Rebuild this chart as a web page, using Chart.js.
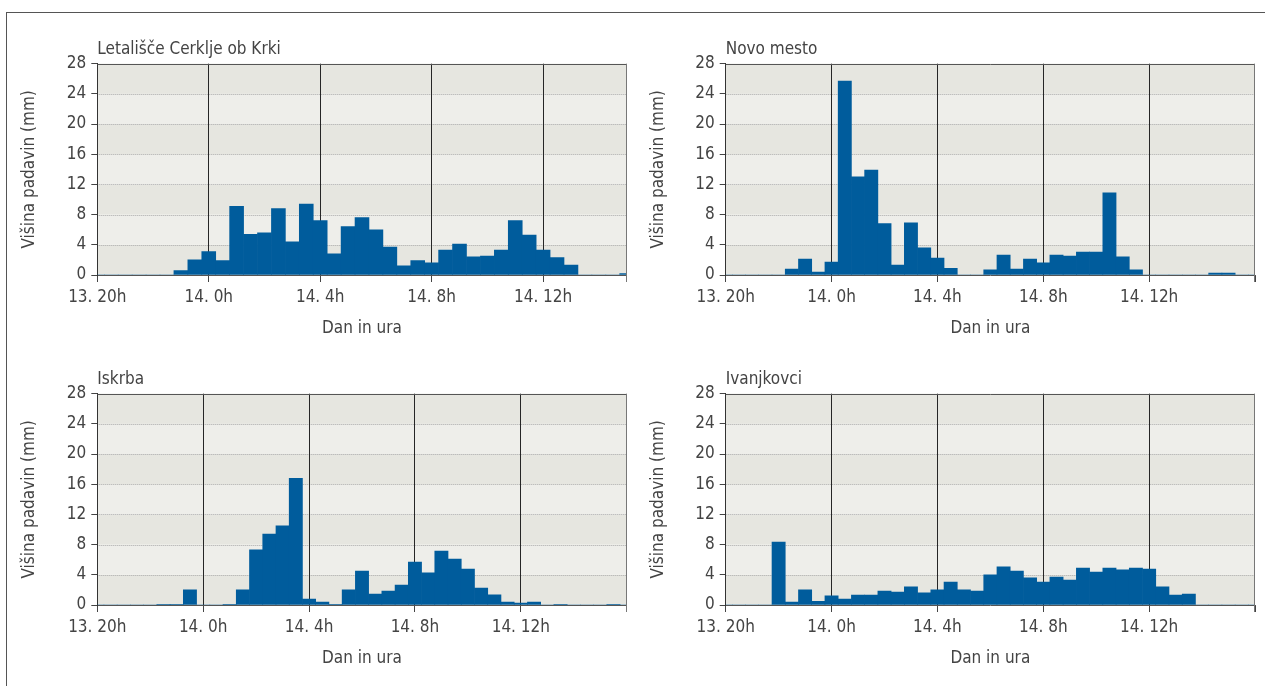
<!DOCTYPE html>
<html>
<head>
<meta charset="utf-8">
<title>Višina padavin</title>
<script src="https://cdn.jsdelivr.net/npm/chart.js@4.4.1/dist/chart.umd.min.js"></script>
<style>
  html, body { margin: 0; padding: 0; background: #fff; }
  body { width: 1265px; height: 686px; position: relative; overflow: hidden; }
  .frame { position: absolute; left: 6px; top: 12px; width: 1270px; height: 690px;
           border-top: 1px solid #555; border-left: 1px solid #555; }
  canvas { position: absolute; }
</style>
</head>
<body>
<div class="frame"></div>
<canvas id="c1" width="640" height="320" style="left:0;top:30px"></canvas>
<canvas id="c2" width="625" height="320" style="left:640px;top:30px"></canvas>
<canvas id="c3" width="640" height="320" style="left:0;top:360px"></canvas>
<canvas id="c4" width="625" height="320" style="left:640px;top:360px"></canvas>
<script>
// Station names (panel titles)
const stations = ['Letališče Cerklje ob Krki', 'Novo mesto', 'Iskrba', 'Ivanjkovci'];

// Half-hourly precipitation (mm), starting on the 13th at 20h
const cerkljeRain = [0, 0, 0, 0, 0, 0, 0.6, 2.0, 3.1, 1.9, 9.1, 5.4, 5.6, 8.8, 4.4, 9.4,
  7.2, 2.8, 6.4, 7.6, 6.0, 3.7, 1.2, 1.9, 1.6, 3.3, 4.1, 2.4, 2.5, 3.3, 7.2, 5.3,
  3.3, 2.3, 1.3, 0, 0, 0, 0.2];
const novoMestoRain = [0, 0, 0, 0, 0, 0.8, 2.1, 0.4, 1.7, 25.7, 13.0, 13.9, 6.8, 1.3, 6.9, 3.6,
  2.25, 0.9, 0, 0, 0.7, 2.65, 0.8, 2.1, 1.6, 2.65, 2.5, 3.05, 3.05, 10.9, 2.4, 0.7,
  0, 0, 0, 0, 0, 0.25, 0.25, 0, 0];
const iskrbaRain = [0, 0, 0, 0, 0, 0.1, 0.1, 2.0, 0, 0, 0.1, 2.0, 7.3, 9.4, 10.5, 16.8,
  0.8, 0.4, 0.05, 2.0, 4.5, 1.45, 1.85, 2.65, 5.7, 4.25, 7.15, 6.1, 4.75, 2.25, 1.35, 0.4,
  0.25, 0.4, 0, 0.1, 0, 0, 0, 0.1, 0];
const ivanjkovciRain = [0, 0, 0, 0, 8.35, 0.4, 2.0, 0.5, 1.2, 0.8, 1.3, 1.3, 1.85, 1.7, 2.4, 1.6,
  2.0, 3.05, 2.0, 1.85, 4.0, 5.05, 4.5, 3.6, 3.05, 3.7, 3.3, 4.9, 4.35, 4.9, 4.65, 4.9,
  4.75, 2.4, 1.3, 1.45, 0, 0, 0, 0, 0];

// Labelled x ticks, one every 8 half hours (4 h)
const tickLabels = ['13. 20h', '14. 0h', '14. 4h', '14. 8h', '14. 12h'];
const tickStep = 8;

// Value axis
const yMin = 0, yMax = 28, yStep = 4;

const FONT = '"Liberation Sans Narrow", "DejaVu Sans Condensed", "Roboto", sans-serif';
const FONT_SIZE = 17;
const TEXT = '#444';
const BAR = '#005c9c';

Chart.defaults.font.family = FONT;
Chart.defaults.font.size = FONT_SIZE;
Chart.defaults.color = TEXT;

// Half-hour category names starting at day 13, 20:00
function halfHourCategories(n) {
  const out = [];
  for (let i = 0; i < n; i++) {
    const mins = 20 * 60 + i * 30;
    const day = 13 + Math.floor(mins / 1440);
    const m = mins % 1440;
    out.push(day + '. ' + Math.floor(m / 60) + ':' + (m % 60 === 0 ? '00' : '30'));
  }
  return out;
}

// Alternating horizontal bands, dotted gridlines and plot frame
const plotDecor = {
  id: 'plotDecor',
  beforeDraw(chart) {
    const { ctx, chartArea: a, scales: { y } } = chart;
    const ticks = y.ticks;
    ctx.save();
    for (let i = 0; i < ticks.length - 1; i++) {
      const y0 = y.getPixelForValue(ticks[i].value);
      const y1 = y.getPixelForValue(ticks[i + 1].value);
      ctx.fillStyle = i % 2 === 0 ? '#e6e6e0' : '#eeeeea';
      ctx.fillRect(a.left, y1, a.right - a.left, y0 - y1);
    }
    ctx.strokeStyle = '#a9a9a9';
    ctx.lineWidth = 1;
    ctx.setLineDash([1, 1]);
    for (let i = 1; i < ticks.length - 1; i++) {
      const py = Math.round(y.getPixelForValue(ticks[i].value)) + 0.5;
      ctx.beginPath();
      ctx.moveTo(a.left, py);
      ctx.lineTo(a.right, py);
      ctx.stroke();
    }
    ctx.restore();
  },
  afterDatasetsDraw(chart) {
    const { ctx, chartArea: a } = chart;
    ctx.save();
    ctx.lineWidth = 1;
    ctx.strokeStyle = '#555';
    ctx.beginPath();
    ctx.moveTo(a.left, Math.round(a.top) + 0.5);
    ctx.lineTo(a.right, Math.round(a.top) + 0.5);
    ctx.stroke();
    ctx.strokeStyle = '#777';
    ctx.beginPath();
    ctx.moveTo(Math.round(a.right) - 0.5, a.top);
    ctx.lineTo(Math.round(a.right) - 0.5, a.bottom + 7);
    ctx.stroke();
    ctx.restore();
  }
};

function makePanel(canvasId, title, values, yAxisWidth, rightPad, yTitlePad) {
  const labels = halfHourCategories(values.length);
  const last = values.length - 1;
  new Chart(document.getElementById(canvasId), {
    type: 'bar',
    data: {
      labels,
      datasets: [{
        data: values,
        backgroundColor: BAR,
        borderWidth: 0,
        barPercentage: 1,
        categoryPercentage: 1,
        clip: 0
      }]
    },
    options: {
      responsive: false,
      animation: false,
      devicePixelRatio: 1,
      layout: { padding: { top: 0, left: 0, right: rightPad, bottom: 0 } },
      plugins: {
        legend: { display: false },
        tooltip: { enabled: false },
        title: {
          display: true,
          text: title,
          align: 'start',
          fullSize: false,
          color: TEXT,
          font: { size: FONT_SIZE, weight: 'normal' },
          padding: { top: 9.6, bottom: 3.7 }
        }
      },
      scales: {
        x: {
          type: 'category',
          offset: false,
          afterFit(s) { s.height = 75; },
          grid: {
            offset: false,
            drawOnChartArea: true,
            lineWidth: 1,
            tickLength: 7,
            color: (c) => (c.index > 0 && c.index % tickStep === 0 && c.index < last) ? '#262626' : 'rgba(0,0,0,0)',
            tickColor: (c) => (c.index % tickStep === 0 || c.index === last) ? '#444' : 'rgba(0,0,0,0)'
          },
          border: { color: '#555', width: 1 },
          ticks: {
            autoSkip: false,
            maxRotation: 0,
            minRotation: 0,
            padding: 5.5,
            color: TEXT,
            callback: (v, i) => (i % tickStep === 0 && i / tickStep < tickLabels.length) ? tickLabels[i / tickStep] : ''
          },
          title: {
            display: true,
            text: 'Dan in ura',
            color: TEXT,
            font: { size: FONT_SIZE },
            padding: { top: 0, bottom: 11 }
          }
        },
        y: {
          min: yMin,
          max: yMax,
          afterFit(s) { s.width = yAxisWidth; },
          grid: {
            drawOnChartArea: false,
            tickLength: 6,
            tickColor: '#444'
          },
          border: { color: '#333', width: 1 },
          ticks: { stepSize: yStep, padding: 5, color: TEXT },
          title: {
            display: true,
            text: 'Višina padavin (mm)',
            color: TEXT,
            font: { size: FONT_SIZE },
            padding: { top: yTitlePad, bottom: 0 }
          }
        }
      }
    },
    plugins: [plotDecor]
  });
}

makePanel('c1', stations[0], cerkljeRain, 97.3, 13.3, 19.8);
makePanel('c2', stations[1], novoMestoRain, 85.7, 10, 8.1);
makePanel('c3', stations[2], iskrbaRain, 97.3, 13.3, 19.8);
makePanel('c4', stations[3], ivanjkovciRain, 85.7, 10, 8.1);
</script>
</body>
</html>
